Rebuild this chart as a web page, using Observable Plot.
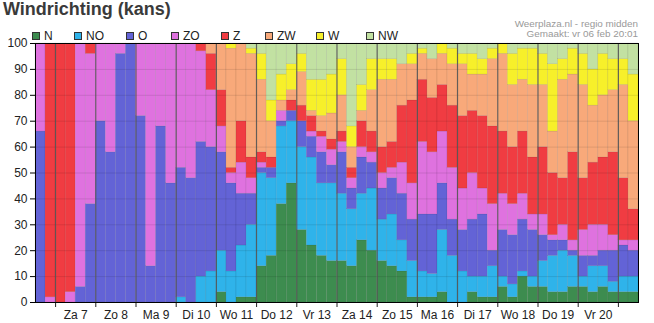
<!DOCTYPE html>
<html><head><meta charset="utf-8">
<script src="https://cdn.jsdelivr.net/npm/d3@7"></script>
<script src="https://cdn.jsdelivr.net/npm/@observablehq/plot@0.6"></script>
<style>
body{margin:0;width:654px;height:323px;overflow:hidden;background:#fff;font-family:"Liberation Sans",Arial,sans-serif;position:relative}
#title{position:absolute;left:3px;top:-1px;font-size:18px;font-weight:bold;color:#3a3a3a;z-index:2}
#src{position:absolute;right:16px;top:19px;font-size:9.9px;color:#999;text-align:right;line-height:10px;z-index:2}
#legend{position:absolute;left:0;top:0;z-index:2}
.leg{position:absolute;top:29px;font-size:12px;color:#222;white-space:nowrap}
.leg i{display:inline-block;width:6px;height:6px;border:1px solid #333;margin-right:4px;vertical-align:0px}
#chart{position:absolute;left:0;top:30px;z-index:1}
</style></head><body>
<div id="title">Windrichting (kans)</div>
<div id="src">Weerplaza.nl - regio midden<br>Gemaakt: vr 06 feb 20:01</div>
<div id="legend"></div>
<div id="chart"></div>
<script>
// series values, one per 6-hour bar (60 bars), stacked bottom to top
const N  = [0,0,0,0,0,0,0,0,0,0, 0,0,0,0,0,0,0,0,4,0, 2,2,14,18,38,46,28,22,18,16, 16,14,24,20,16,14,12,2,2,2, 4,0,0,4,2,2,6,2,10,6, 6,4,4,6,6,4,6,4,4,4];
const NO = [0,0,0,0,0,0,0,0,0,0, 0,0,0,0,2,0,10,12,16,12, 20,28,36,30,30,24,32,34,28,30, 26,22,18,24,16,20,12,14,10,9, 24,18,12,6,8,12,4,5,2,4, 10,14,16,12,4,10,8,4,6,6];
const O  = [66,0,0,0,6,38,70,58,96,100, 72,14,68,46,50,48,52,48,38,34, 20,12,2,4,2,4,10,8,12,7, 16,8,14,10,12,14,18,16,22,23, 18,14,16,22,24,6,18,19,20,18, 10,6,4,2,8,4,6,12,12,10];
const ZO = [34,2,0,4,94,58,30,42,4,0, 28,86,32,54,48,52,35,22,10,4, 12,6,2,0,4,0,0,2,6,6, 4,4,4,4,6,4,12,14,28,24, 20,20,16,18,10,18,14,12,10,6, 8,2,6,4,10,12,10,6,2,4];
const Z  = [0,98,100,96,0,4,0,0,0,0, 0,0,0,0,0,0,3,14,14,2, 16,8,4,4,0,4,6,6,2,4, 4,4,10,8,10,10,22,32,24,21, 18,24,28,24,28,30,24,22,24,22, 26,24,18,34,20,24,26,32,24,12];
const ZW = [0,0,0,0,0,0,0,0,0,0, 0,0,0,0,0,0,0,4,18,46, 30,40,28,14,4,4,13,2,6,10, 14,8,4,16,26,24,16,14,10,15, 12,16,20,14,16,26,30,24,20,28, 24,16,38,30,36,22,24,24,36,34];
const W  = [0,0,0,0,0,0,0,0,0,0, 0,0,0,0,0,0,0,0,0,2, 0,2,10,8,10,10,7,12,14,15, 14,8,10,12,8,8,0,4,2,0, 4,6,4,8,6,4,4,12,12,14, 12,26,8,10,12,14,16,12,10,18];
const NW = [0,0,0,0,0,0,0,0,0,0, 0,0,0,0,0,0,0,0,0,0, 0,2,4,22,12,8,4,14,14,12, 6,32,16,6,6,6,8,4,2,6, 0,2,4,4,6,2,0,4,2,2, 4,8,6,2,4,10,4,6,6,12];

const seriesNames = ["N","NO","O","ZO","Z","ZW","W","NW"];
const seriesValues = [N, NO, O, ZO, Z, ZW, W, NW];
const seriesColors = ["#3d8c4f","#2fb3ea","#6363d6","#df72df","#f03c42","#f8a97a","#f7f02a","#c2e1a2"];
const dayLabels = ["Za 7","Zo 8","Ma 9","Di 10","Wo 11","Do 12","Vr 13","Za 14","Zo 15","Ma 16","Di 17","Wo 18","Do 19","Vr 20"];
const yTicks = [0,10,20,30,40,50,60,70,80,90,100];

// legend (HTML)
const legendLeft = [32,74,126,171,221,265,316,366];
const lg = document.getElementById("legend");
seriesNames.forEach((s,k)=>{
  const d=document.createElement("div");d.className="leg";d.style.left=legendLeft[k]+"px";
  d.innerHTML=`<i style="background:${seriesColors[k]}"></i>${s}`;lg.appendChild(d);
});

// build stacked rects
const nBars = N.length;
const rects = [];
for (let i=0;i<nBars;i++){
  let c=0;
  seriesNames.forEach((s,k)=>{
    const v=seriesValues[k][i];
    if(v>0) rects.push({i, s, y1:c, y2:c+v});
    c+=v;
  });
}
const dayStart = 2; // first two bars belong to Friday 6
const boundaries = d3.range(dayLabels.length+1).map(k=>dayStart+4*k);
const labelPos = dayLabels.map((_,k)=>dayStart+4*k+2);

const chart = Plot.plot({
  width:654, height:293,
  marginLeft:35, marginRight:16, marginTop:13, marginBottom:21,
  style:{fontFamily:"'Liberation Sans', Arial, sans-serif", fontSize:"12px", color:"#222", background:"transparent"},
  x:{domain:[0,nBars], axis:null},
  y:{domain:[0,100], axis:null},
  color:{domain:seriesNames, range:seriesColors},
  marks:[
    Plot.rect(rects,{x1:d=>d.i, x2:d=>d.i+1, y1:"y1", y2:"y2", fill:"s", stroke:"#000", strokeOpacity:0.12, strokeWidth:0.6}),
    Plot.ruleY(yTicks.slice(1,-1),{stroke:"#000", strokeOpacity:0.1}),
    Plot.ruleX(boundaries,{stroke:"#555", strokeWidth:1}),
    Plot.axisY({ticks:yTicks, tickSize:5, tickPadding:3, label:null, stroke:"#000"}),
    Plot.axisX({ticks:boundaries, tickSize:5, tickFormat:()=>"", label:null}),
    Plot.axisX({ticks:labelPos, tickSize:0, tickPadding:8, tickFormat:(d)=>dayLabels[(d-dayStart-2)/4], label:null}),
    Plot.frame({stroke:"#000"})
  ]
});
document.getElementById("chart").appendChild(chart);
</script>
</body></html>
